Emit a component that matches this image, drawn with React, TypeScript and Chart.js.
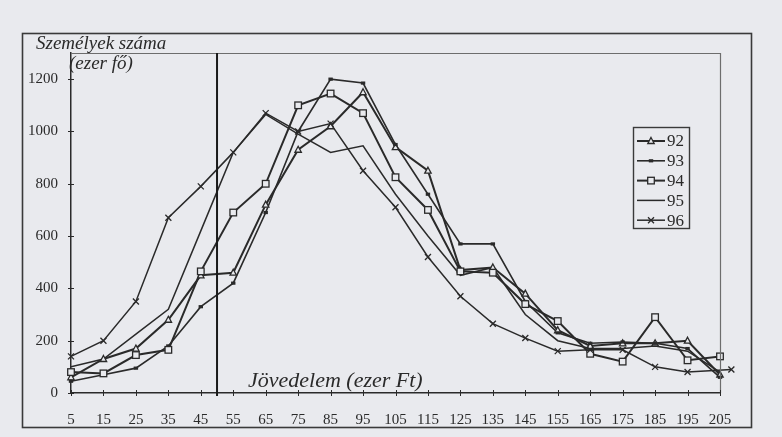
import React, { useEffect, useRef } from "react";
import { Chart, registerables } from "chart.js";

Chart.register(...registerables);

// ---- data ----
const xValues = [5, 15, 25, 35, 45, 55, 65, 75, 85, 95, 105, 115, 125, 135, 145, 155, 165, 175, 185, 195, 205];
const s92 = [60, 130, 170, 280, 450, 460, 720, 930, 1020, 1150, 940, 850, 470, 480, 380, 240, 180, 190, 190, 200, 70];
const s93 = [45, 70, 95, 180, 330, 420, 690, 1000, 1200, 1185, 950, 760, 570, 570, 350, 230, 190, 195, 190, 170, 60];
const s94 = [80, 75, 145, 165, 465, 690, 800, 1100, 1145, 1070, 825, 700, 465, 460, 340, 275, 150, 120, 290, 125, 140];
const s95 = [100, 130, 225, 320, 620, 920, 1065, 990, 920, 945, 760, 600, 450, 480, 300, 200, 170, 170, 180, 160, 80];
const s96 = [140, 200, 350, 670, 790, 920, 1070, 1000, 1030, 850, 710, 520, 370, 265, 210, 160, 165, 165, 100, 80, 90];
const s96X = [5, 15, 25, 35, 45, 55, 65, 75, 85, 95, 105, 115, 125, 135, 145, 155, 165, 175, 185, 195, 208.5];
const seriesNames = ["92", "93", "94", "95", "96"];
const yTickValues = [0, 200, 400, 600, 800, 1000, 1200];
const xTickValues = [5, 15, 25, 35, 45, 55, 65, 75, 85, 95, 105, 115, 125, 135, 145, 155, 165, 175, 185, 195, 205];
const dividerX = 50;
const yTitle1 = "Személyek száma";
const yTitle2 = "(ezer fő)";
const xTitle = "Jövedelem (ezer Ft)";

const INK = "#2a2a2a";
const BG = "#e9eaee";
const SERIF = "'Liberation Serif', 'DejaVu Serif', serif";

type MarkerKind = "triangle" | "dot" | "square" | "none" | "x";
const markerKinds: MarkerKind[] = ["triangle", "dot", "square", "none", "x"];
const lineWidths = [2, 1.6, 2, 1.5, 1.5];

function drawMarker(ctx: CanvasRenderingContext2D, kind: MarkerKind, x: number, y: number) {
  ctx.save();
  ctx.strokeStyle = INK;
  ctx.fillStyle = BG;
  ctx.lineWidth = 1.3;
  if (kind === "triangle") {
    ctx.beginPath();
    ctx.moveTo(x, y - 3.5);
    ctx.lineTo(x + 3.2, y + 2.5);
    ctx.lineTo(x - 3.2, y + 2.5);
    ctx.closePath();
    ctx.fill();
    ctx.stroke();
  } else if (kind === "dot") {
    ctx.fillStyle = INK;
    ctx.fillRect(x - 2.2, y - 1.6, 4.4, 3.2);
  } else if (kind === "square") {
    ctx.fillRect(x - 3.3, y - 3.3, 6.6, 6.6);
    ctx.strokeRect(x - 3.3, y - 3.3, 6.6, 6.6);
  } else if (kind === "x") {
    ctx.beginPath();
    ctx.moveTo(x - 3, y - 3);
    ctx.lineTo(x + 3, y + 3);
    ctx.moveTo(x + 3, y - 3);
    ctx.lineTo(x - 3, y + 3);
    ctx.stroke();
  }
  ctx.restore();
}

const decor = {
  id: "decor",
  beforeDraw(chart: any) {
    const { ctx, width, height } = chart;
    ctx.save();
    ctx.fillStyle = BG;
    ctx.fillRect(0, 0, width, height);
    ctx.restore();
  },
  afterDatasetsDraw(chart: any) {
    const { ctx, scales } = chart;
    const xs = scales.x;
    const ys = scales.y;
    ctx.save();
    chart.data.datasets.forEach((ds: any, i: number) => {
      const kind = markerKinds[i];
      if (kind === "none") return;
      ds.data.forEach((p: any) => {
        drawMarker(ctx, kind, xs.getPixelForValue(p.x), ys.getPixelForValue(p.y));
      });
    });
    ctx.restore();
  },
  afterDraw(chart: any) {
    const { ctx, chartArea, scales } = chart;
    const xs = scales.x;
    const ys = scales.y;
    ctx.save();
    // outer frame
    ctx.strokeStyle = "#3a3a3a";
    ctx.lineWidth = 1.6;
    ctx.strokeRect(22.5, 33.5, 729, 394);
    // plot top/right border
    ctx.strokeStyle = "#6d6d6d";
    ctx.lineWidth = 1.2;
    ctx.beginPath();
    ctx.moveTo(chartArea.left, chartArea.top + 0.5);
    ctx.lineTo(chartArea.right + 0.5, chartArea.top + 0.5);
    ctx.lineTo(chartArea.right + 0.5, chartArea.bottom);
    ctx.stroke();
    // divider line
    const dx = xs.getPixelForValue(dividerX);
    ctx.strokeStyle = "#1a1a1a";
    ctx.lineWidth = 2;
    ctx.beginPath();
    ctx.moveTo(dx, chartArea.top);
    ctx.lineTo(dx, chartArea.bottom + 3);
    ctx.stroke();
    // tick marks crossing axes
    ctx.strokeStyle = INK;
    ctx.lineWidth = 1;
    xTickValues.forEach((v) => {
      const px = Math.round(xs.getPixelForValue(v)) + 0.5;
      ctx.beginPath();
      ctx.moveTo(px, chartArea.bottom - 3);
      ctx.lineTo(px, chartArea.bottom + 3);
      ctx.stroke();
    });
    yTickValues.forEach((v) => {
      const py = Math.round(ys.getPixelForValue(v)) + 0.5;
      ctx.beginPath();
      ctx.moveTo(chartArea.left - 3, py);
      ctx.lineTo(chartArea.left + 3, py);
      ctx.stroke();
    });
    // titles
    ctx.fillStyle = INK;
    ctx.textBaseline = "alphabetic";
    ctx.textAlign = "left";
    ctx.font = `italic 19px ${SERIF}`;
    ctx.fillText(yTitle1, 36, 49);
    ctx.fillText(yTitle2, 69, 69);
    ctx.font = `italic 22px ${SERIF}`;
    ctx.fillText(xTitle, 248, 387);
    // legend
    const lx = 633.5, ly = 127.5, lw = 56, lh = 101;
    ctx.fillStyle = BG;
    ctx.fillRect(lx, ly, lw, lh);
    ctx.strokeStyle = "#3a3a3a";
    ctx.lineWidth = 1.4;
    ctx.strokeRect(lx, ly, lw, lh);
    ctx.font = `17px ${SERIF}`;
    ctx.textBaseline = "middle";
    seriesNames.forEach((name, i) => {
      const yy = 141 + i * 19.8;
      ctx.strokeStyle = INK;
      ctx.lineWidth = lineWidths[i];
      ctx.beginPath();
      ctx.moveTo(637, yy);
      ctx.lineTo(665, yy);
      ctx.stroke();
      drawMarker(ctx, markerKinds[i], 651, yy);
      ctx.fillStyle = INK;
      ctx.fillText(name, 667, yy + 1);
    });
    ctx.restore();
  },
};

export default function App() {
  const ref = useRef<HTMLCanvasElement | null>(null);
  useEffect(() => {
    if (!ref.current) return;
    const mk = (vals: number[], xsArr: number[]) => vals.map((v, i) => ({ x: xsArr[i], y: v }));
    const all = [mk(s92, xValues), mk(s93, xValues), mk(s94, xValues), mk(s95, xValues), mk(s96, s96X)];
    const chart = new Chart(ref.current, {
      type: "line",
      data: {
        datasets: all.map((d, i) => ({
          label: seriesNames[i],
          data: d,
          borderColor: INK,
          borderWidth: lineWidths[i],
          pointRadius: 0,
          fill: false,
          tension: 0,
          clip: i === 4 ? false : undefined,
        })) as any,
      },
      options: {
        animation: false,
        responsive: true,
        maintainAspectRatio: false,
        layout: { padding: { left: 0, top: 53, right: 62, bottom: 0 } },
        plugins: { legend: { display: false }, tooltip: { enabled: false } },
        scales: {
          x: {
            type: "linear",
            min: 5,
            max: 205,
            grid: { display: false },
            border: { display: true, color: INK, width: 1.5 },
            ticks: {
              stepSize: 10,
              autoSkip: false,
              maxRotation: 0,
              padding: 10,
              color: INK,
              font: { family: SERIF, size: 15 },
              callback: (v: any) => String(v),
            },
            afterBuildTicks: (s: any) => {
              s.ticks = xTickValues.map((v) => ({ value: v }));
            },
            afterFit: (s: any) => {
              s.height = 44;
            },
          },
          y: {
            type: "linear",
            min: 0,
            max: 1300,
            grid: { display: false },
            border: { display: true, color: INK, width: 1.5 },
            ticks: {
              stepSize: 200,
              padding: 5,
              color: INK,
              font: { family: SERIF, size: 15 },
              callback: (v: any) => String(v),
            },
            afterBuildTicks: (s: any) => {
              s.ticks = yTickValues.map((v) => ({ value: v }));
            },
            afterFit: (s: any) => {
              s.width = 71;
            },
          },
        },
      },
      plugins: [decor],
    });
    return () => chart.destroy();
  }, []);
  return (
    <div style={{ position: "absolute", left: 0, top: 0, width: 782, height: 437, background: BG }}>
      <canvas ref={ref} style={{ width: "100%", height: "100%" }} />
    </div>
  );
}
